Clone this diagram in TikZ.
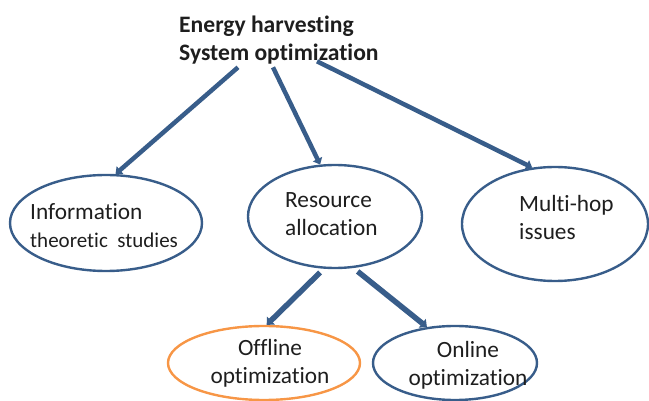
\documentclass[tikz,border=0pt]{standalone}
\usepackage{fontspec}
\setmainfont[Ligatures={NoCommon}]{Carlito}
\usetikzlibrary{arrows.meta,calc,shapes.geometric}
\definecolor{eblue}{RGB}{56,93,138}
\definecolor{eorange}{RGB}{247,150,70}
\definecolor{etext}{RGB}{30,30,30}
\begin{document}
\begin{tikzpicture}[x=1pt,y=-1pt,
  bub/.style={ellipse, draw=eblue, line width=2.4pt, inner sep=0pt},
  lbl/.style={inner sep=0pt, text=etext, font=\fontsize{23.3}{28}\selectfont},
  arr/.style={draw=eblue, line width=4.5pt, -{Triangle[width=10pt,length=6pt]}},
  arrb/.style={arr, line width=5.5pt, -{Triangle[width=11pt,length=6pt]}},
]
\useasboundingbox (0,0) rectangle (649,401);
% ellipses
\node[bub, minimum width=192pt, minimum height=96pt] (e1) at (106,223) {};
\node[bub, minimum width=174pt, minimum height=103pt] (e2) at (335,216.5) {};
\node[bub, minimum width=186pt, minimum height=114pt] (e3) at (555,224) {};
\node[bub, draw=eorange, minimum width=192pt, minimum height=74pt] (e4) at (264,363) {};
\node[bub, minimum width=164pt, minimum height=74pt] (e5) at (455,363) {};
% texts
\node[lbl, font=\bfseries\fontsize{23.6}{28}\selectfont, align=left, anchor=west] (title) at (179,40) {Energy harvesting\\System optimization};
\node[lbl, align=left, anchor=west] (t1) at (30,226) {Information\\{\fontsize{21}{28}\selectfont theoretic\ \ studies}};
\node[lbl, align=left, anchor=west] (t2) at (285,214) {Resource\\allocation};
\node[lbl, align=left, anchor=west] (t3) at (519,217) {Multi-hop\\issues};
\node[lbl, align=center] (t4) at (270,363.5) {Offline\\optimization};
\node[lbl, align=center] (t5) at (468,365) {Online\\optimization};
% arrows
\draw[arr] ($(title.south west)+(59,3)$) -- (e1.79);
\draw[arr] ($(title.south west)+(94,3)$) -- (e2.106);
\draw[arr] ($(title.south west)+(138,-3)$) -- (e3.112);
\draw[arrb] ($(e2.254)+(0,4)$) -- (e4.86);
\draw[arrb] ($(e2.294)+(0,4)$) -- (e5.128);
\end{tikzpicture}
\end{document}
